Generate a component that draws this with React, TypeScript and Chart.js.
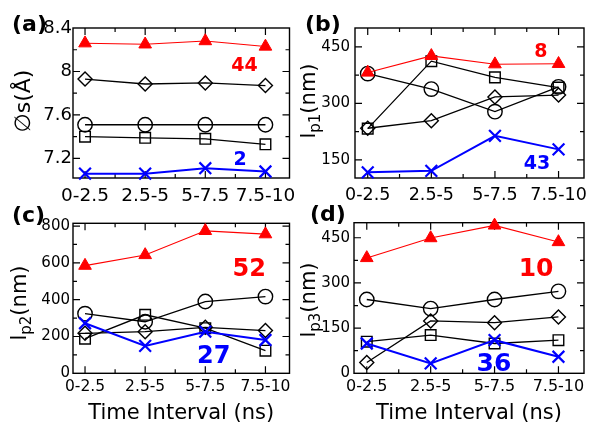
import React, { useEffect, useRef } from "react";
import { Chart, registerables } from "chart.js";
Chart.register(...registerables);

const FONT = "'DejaVu Sans', 'Liberation Sans', sans-serif";
const RED = "#ff0000";
const BLUE = "#0000ff";
const BLACK = "#000000";

const categories = ["0-2.5", "2.5-5", "5-7.5", "7.5-10"];
const xPositions = [1, 2, 3, 4];
const xMinorTicks = [1.5, 2.5, 3.5];

// (a) diameter
const aTriangle = [8.26, 8.25, 8.28, 8.23];
const aDiamond = [7.93, 7.885, 7.895, 7.87];
const aCircle = [7.51, 7.51, 7.51, 7.51];
const aSquare = [7.4, 7.39, 7.38, 7.33];
const aCross = [7.06, 7.06, 7.11, 7.08];
const aTicks = [7.2, 7.6, 8, 8.4];
const aMinor = [7.4, 7.8, 8.2];

// (b) lp1
const bTriangle = [382, 426, 404, 405];
const bDiamond = [234, 254, 317, 322];
const bCircle = [379, 338, 278, 344];
const bSquare = [233, 412, 369, 342];
const bCross = [117, 121, 214, 178];
const bTicks = [150, 300, 450];
const bMinor = [225, 375];

// (c) lp2
const cTriangle = [585, 643, 774, 756];
const cDiamond = [217, 226, 250, 232];
const cCircle = [324, 280, 390, 417];
const cSquare = [188, 318, 245, 123];
const cCross = [272, 149, 226, 181];
const cTicks = [0, 200, 400, 600, 800];
const cMinor = [100, 300, 500, 700];

// (d) lp3
const dTriangle = [383, 449, 491, 436];
const dDiamond = [36, 174, 168, 187];
const dCircle = [245, 215, 245, 272];
const dSquare = [105, 127, 99, 110];
const dCross = [99, 33, 110, 55];
const dTicks = [0, 150, 300, 450];
const dMinor = [75, 225, 375];

type Part = { t: string; sub?: boolean };
type Note = { text: string; x: number; y: number; color: string };
type PanelCfg = {
  left: number; top: number; width: number; height: number;
  area: { left: number; top: number; right: number; bottom: number };
  yMin: number; yMax: number; yTicks: number[]; yMinor: number[];
  series: { tri: number[]; dia: number[]; cir: number[]; sq: number[]; cross: number[] };
  yTickSize: number; xTickSize: number; yPad: number; xPad: number;
  label: string; labelX: number; labelY: number;
  yTitle: Part[]; yTitleX: number; yTitleY: number; yTitleSize: number;
  xTitle?: string; xTitleY?: number;
  noteSize: number; notes: Note[];
};

const panels: PanelCfg[] = [
  {
    left: 0, top: 0, width: 300, height: 210,
    area: { left: 73, top: 28, right: 298, bottom: 178 },
    yMin: 7.02, yMax: 8.4, yTicks: aTicks, yMinor: aMinor,
    series: { tri: aTriangle, dia: aDiamond, cir: aCircle, sq: aSquare, cross: aCross },
    yTickSize: 18, xTickSize: 18.5, yPad: 1, xPad: 7,
    label: "(a)", labelX: 12, labelY: 31,
    yTitle: [{ t: "∅s(Å)" }], yTitleX: 24, yTitleY: 101, yTitleSize: 22,
    noteSize: 19,
    notes: [
      { text: "44", x: 3.65, y: 8.07, color: RED },
      { text: "2", x: 3.58, y: 7.2, color: BLUE },
    ],
  },
  {
    left: 300, top: 0, width: 300, height: 210,
    area: { left: 55, top: 28, right: 284, bottom: 178 },
    yMin: 102, yMax: 500, yTicks: bTicks, yMinor: bMinor,
    series: { tri: bTriangle, dia: bDiamond, cir: bCircle, sq: bSquare, cross: bCross },
    yTickSize: 15, xTickSize: 17.5, yPad: 5, xPad: 7,
    label: "(b)", labelX: 5, labelY: 31,
    yTitle: [{ t: "l" }, { t: "p1", sub: true }, { t: "(nm)" }], yTitleX: 10, yTitleY: 101, yTitleSize: 21,
    noteSize: 19,
    notes: [
      { text: "8", x: 3.72, y: 441, color: RED },
      { text: "43", x: 3.66, y: 145, color: BLUE },
    ],
  },
  {
    left: 0, top: 195, width: 300, height: 244,
    area: { left: 73, top: 28.3, right: 298, bottom: 178.3 },
    yMin: 0, yMax: 815, yTicks: cTicks, yMinor: cMinor,
    series: { tri: cTriangle, dia: cDiamond, cir: cCircle, sq: cSquare, cross: cCross },
    yTickSize: 15, xTickSize: 15.5, yPad: 3, xPad: 4,
    label: "(c)", labelX: 12, labelY: 27,
    yTitle: [{ t: "l" }, { t: "p2", sub: true }, { t: "(nm)" }], yTitleX: 21, yTitleY: 108, yTitleSize: 21,
    xTitle: "Time Interval (ns)", xTitleY: 219,
    noteSize: 24,
    notes: [
      { text: "52", x: 3.73, y: 578, color: RED },
      { text: "27", x: 3.14, y: 105, color: BLUE },
    ],
  },
  {
    left: 300, top: 195, width: 300, height: 244,
    area: { left: 54, top: 27.7, right: 284, bottom: 178.3 },
    yMin: 0, yMax: 500, yTicks: dTicks, yMinor: dMinor,
    series: { tri: dTriangle, dia: dDiamond, cir: dCircle, sq: dSquare, cross: dCross },
    yTickSize: 15, xTickSize: 16, yPad: 4, xPad: 4,
    label: "(d)", labelX: 10, labelY: 26,
    yTitle: [{ t: "l" }, { t: "p3", sub: true }, { t: "(nm)" }], yTitleX: 10, yTitleY: 105, yTitleSize: 21,
    xTitle: "Time Interval (ns)", xTitleY: 219,
    noteSize: 25,
    notes: [
      { text: "10", x: 3.65, y: 352, color: RED },
      { text: "36", x: 2.99, y: 37, color: BLUE },
    ],
  },
];

function Panel({ cfg }: { cfg: PanelCfg }) {
  const ref = useRef<HTMLCanvasElement>(null);
  useEffect(() => {
    const canvas = ref.current;
    if (!canvas) return;
    const mk = (vals: number[]) => vals.map((v, i) => ({ x: xPositions[i], y: v }));
    const s = cfg.series;
    const base = { showLine: true, fill: false, tension: 0, clip: false as any };
    const hollow = "rgba(0,0,0,0)";
    const datasets: any[] = [
      { ...base, data: mk(s.tri), borderColor: RED, backgroundColor: RED, pointBackgroundColor: RED, pointBorderColor: RED, pointStyle: "triangle", pointRadius: 7.3, borderWidth: 1.1, pointBorderWidth: 1 },
      { ...base, data: mk(s.cross), borderColor: BLUE, backgroundColor: BLUE, pointBorderColor: BLUE, pointBackgroundColor: BLUE, pointStyle: "crossRot", pointRadius: 8.3, borderWidth: 2, pointBorderWidth: 2.2 },
      { ...base, data: mk(s.cir), borderColor: BLACK, pointBorderColor: BLACK, pointBackgroundColor: hollow, pointStyle: "circle", pointRadius: 7.2, borderWidth: 1.3, pointBorderWidth: 1.4 },
      { ...base, data: mk(s.sq), borderColor: BLACK, pointBorderColor: BLACK, pointBackgroundColor: hollow, pointStyle: "rect", pointRadius: 7.5, borderWidth: 1.3, pointBorderWidth: 1.4 },
      { ...base, data: mk(s.dia), borderColor: BLACK, pointBorderColor: BLACK, pointBackgroundColor: hollow, pointStyle: "rectRot", pointRadius: 7, borderWidth: 1.3, pointBorderWidth: 1.4 },
    ];
    datasets.forEach((d) => (d.pointHoverRadius = d.pointRadius));

    const decor = {
      id: "decor",
      beforeDatasetsDraw(chart: any) {
        const ctx = chart.ctx;
        const { left, top, right, bottom } = chart.chartArea;
        const xs = chart.scales.x;
        const ys = chart.scales.y;
        ctx.save();
        ctx.strokeStyle = BLACK;
        ctx.lineWidth = 1.4;
        ctx.strokeRect(left, top, right - left, bottom - top);
        ctx.lineWidth = 1.2;
        const tick = (len: number, vals: number[], axis: "x" | "y") => {
          vals.forEach((v) => {
            ctx.beginPath();
            if (axis === "x") {
              const px = xs.getPixelForValue(v);
              ctx.moveTo(px, bottom); ctx.lineTo(px, bottom - len);
              ctx.moveTo(px, top); ctx.lineTo(px, top + len);
            } else {
              const py = ys.getPixelForValue(v);
              ctx.moveTo(left, py); ctx.lineTo(left + len, py);
              ctx.moveTo(right, py); ctx.lineTo(right - len, py);
            }
            ctx.stroke();
          });
        };
        tick(7, xPositions, "x");
        tick(4, xMinorTicks, "x");
        tick(7, cfg.yTicks.filter((v) => v > cfg.yMin && v < cfg.yMax), "y");
        tick(4, cfg.yMinor, "y");
        ctx.restore();
      },
      afterDraw(chart: any) {
        const ctx = chart.ctx;
        const xs = chart.scales.x;
        const ys = chart.scales.y;
        const { left, right } = chart.chartArea;
        ctx.save();
        // panel label
        ctx.fillStyle = BLACK;
        ctx.font = `bold 22px ${FONT}`;
        ctx.textAlign = "left";
        ctx.textBaseline = "alphabetic";
        ctx.fillText(cfg.label, cfg.labelX, cfg.labelY);
        // annotations
        ctx.font = `bold ${cfg.noteSize}px ${FONT}`;
        ctx.textAlign = "center";
        cfg.notes.forEach((n) => {
          ctx.fillStyle = n.color;
          ctx.fillText(n.text, xs.getPixelForValue(n.x), ys.getPixelForValue(n.y) + cfg.noteSize * 0.365);
        });
        // x title
        if (cfg.xTitle) {
          ctx.fillStyle = BLACK;
          ctx.font = `21px ${FONT}`;
          ctx.textAlign = "center";
          ctx.textBaseline = "middle";
          ctx.fillText(cfg.xTitle, (left + right) / 2, cfg.xTitleY as number);
        }
        // y title (rotated, with subscript)
        const mainF = `${cfg.yTitleSize}px ${FONT}`;
        const subF = `${Math.round(cfg.yTitleSize * 0.7)}px ${FONT}`;
        let total = 0;
        const widths = cfg.yTitle.map((p) => {
          ctx.font = p.sub ? subF : mainF;
          const w = ctx.measureText(p.t).width;
          total += w;
          return w;
        });
        ctx.translate(cfg.yTitleX, cfg.yTitleY);
        ctx.rotate(-Math.PI / 2);
        ctx.fillStyle = BLACK;
        ctx.textAlign = "left";
        ctx.textBaseline = "middle";
        let x = -total / 2;
        cfg.yTitle.forEach((p, i) => {
          ctx.font = p.sub ? subF : mainF;
          ctx.fillText(p.t, x, p.sub ? 6 : 0);
          x += widths[i];
        });
        ctx.restore();
      },
    };

    const chart = new Chart(canvas, {
      type: "line",
      data: { datasets },
      options: {
        animation: false,
        responsive: false,
        maintainAspectRatio: false,
        devicePixelRatio: 1,
        events: [],
        layout: { padding: { left: 0, bottom: 0, top: cfg.area.top, right: cfg.width - cfg.area.right } },
        plugins: { legend: { display: false }, tooltip: { enabled: false } },
        scales: {
          x: {
            type: "linear",
            min: 0.8,
            max: 4.4,
            grid: { display: false, drawTicks: false },
            border: { display: false },
            ticks: {
              color: BLACK,
              padding: cfg.xPad,
              autoSkip: false,
              maxRotation: 0,
              minRotation: 0,
              font: { family: FONT, size: cfg.xTickSize },
              callback: (v: any) => {
                const i = xPositions.indexOf(Number(v));
                return i >= 0 ? categories[i] : "";
              },
            },
            afterBuildTicks: (sc: any) => {
              sc.ticks = xPositions.map((v) => ({ value: v }));
            },
            afterFit: (sc: any) => {
              sc.height = cfg.height - cfg.area.bottom;
              sc.paddingLeft = 0;
              sc.paddingRight = 0;
            },
          },
          y: {
            type: "linear",
            min: cfg.yMin,
            max: cfg.yMax,
            grid: { display: false, drawTicks: false },
            border: { display: false },
            ticks: {
              color: BLACK,
              padding: cfg.yPad,
              autoSkip: false,
              font: { family: FONT, size: cfg.yTickSize },
              callback: (v: any) => String(Number(v)),
            },
            afterBuildTicks: (sc: any) => {
              sc.ticks = cfg.yTicks.map((v) => ({ value: v }));
            },
            afterFit: (sc: any) => {
              sc.width = cfg.area.left;
              sc.paddingTop = 0;
              sc.paddingBottom = 0;
            },
          },
        },
      } as any,
      plugins: [decor],
    });
    return () => chart.destroy();
  }, [cfg]);
  return (
    <canvas
      ref={ref}
      width={cfg.width}
      height={cfg.height}
      style={{ position: "absolute", left: cfg.left, top: cfg.top, width: cfg.width, height: cfg.height }}
    />
  );
}

export default function App() {
  return (
    <div style={{ position: "absolute", left: 0, top: 0, width: 600, height: 439, background: "#ffffff", overflow: "hidden" }}>
      {panels.map((p) => (
        <Panel key={p.label} cfg={p} />
      ))}
    </div>
  );
}
